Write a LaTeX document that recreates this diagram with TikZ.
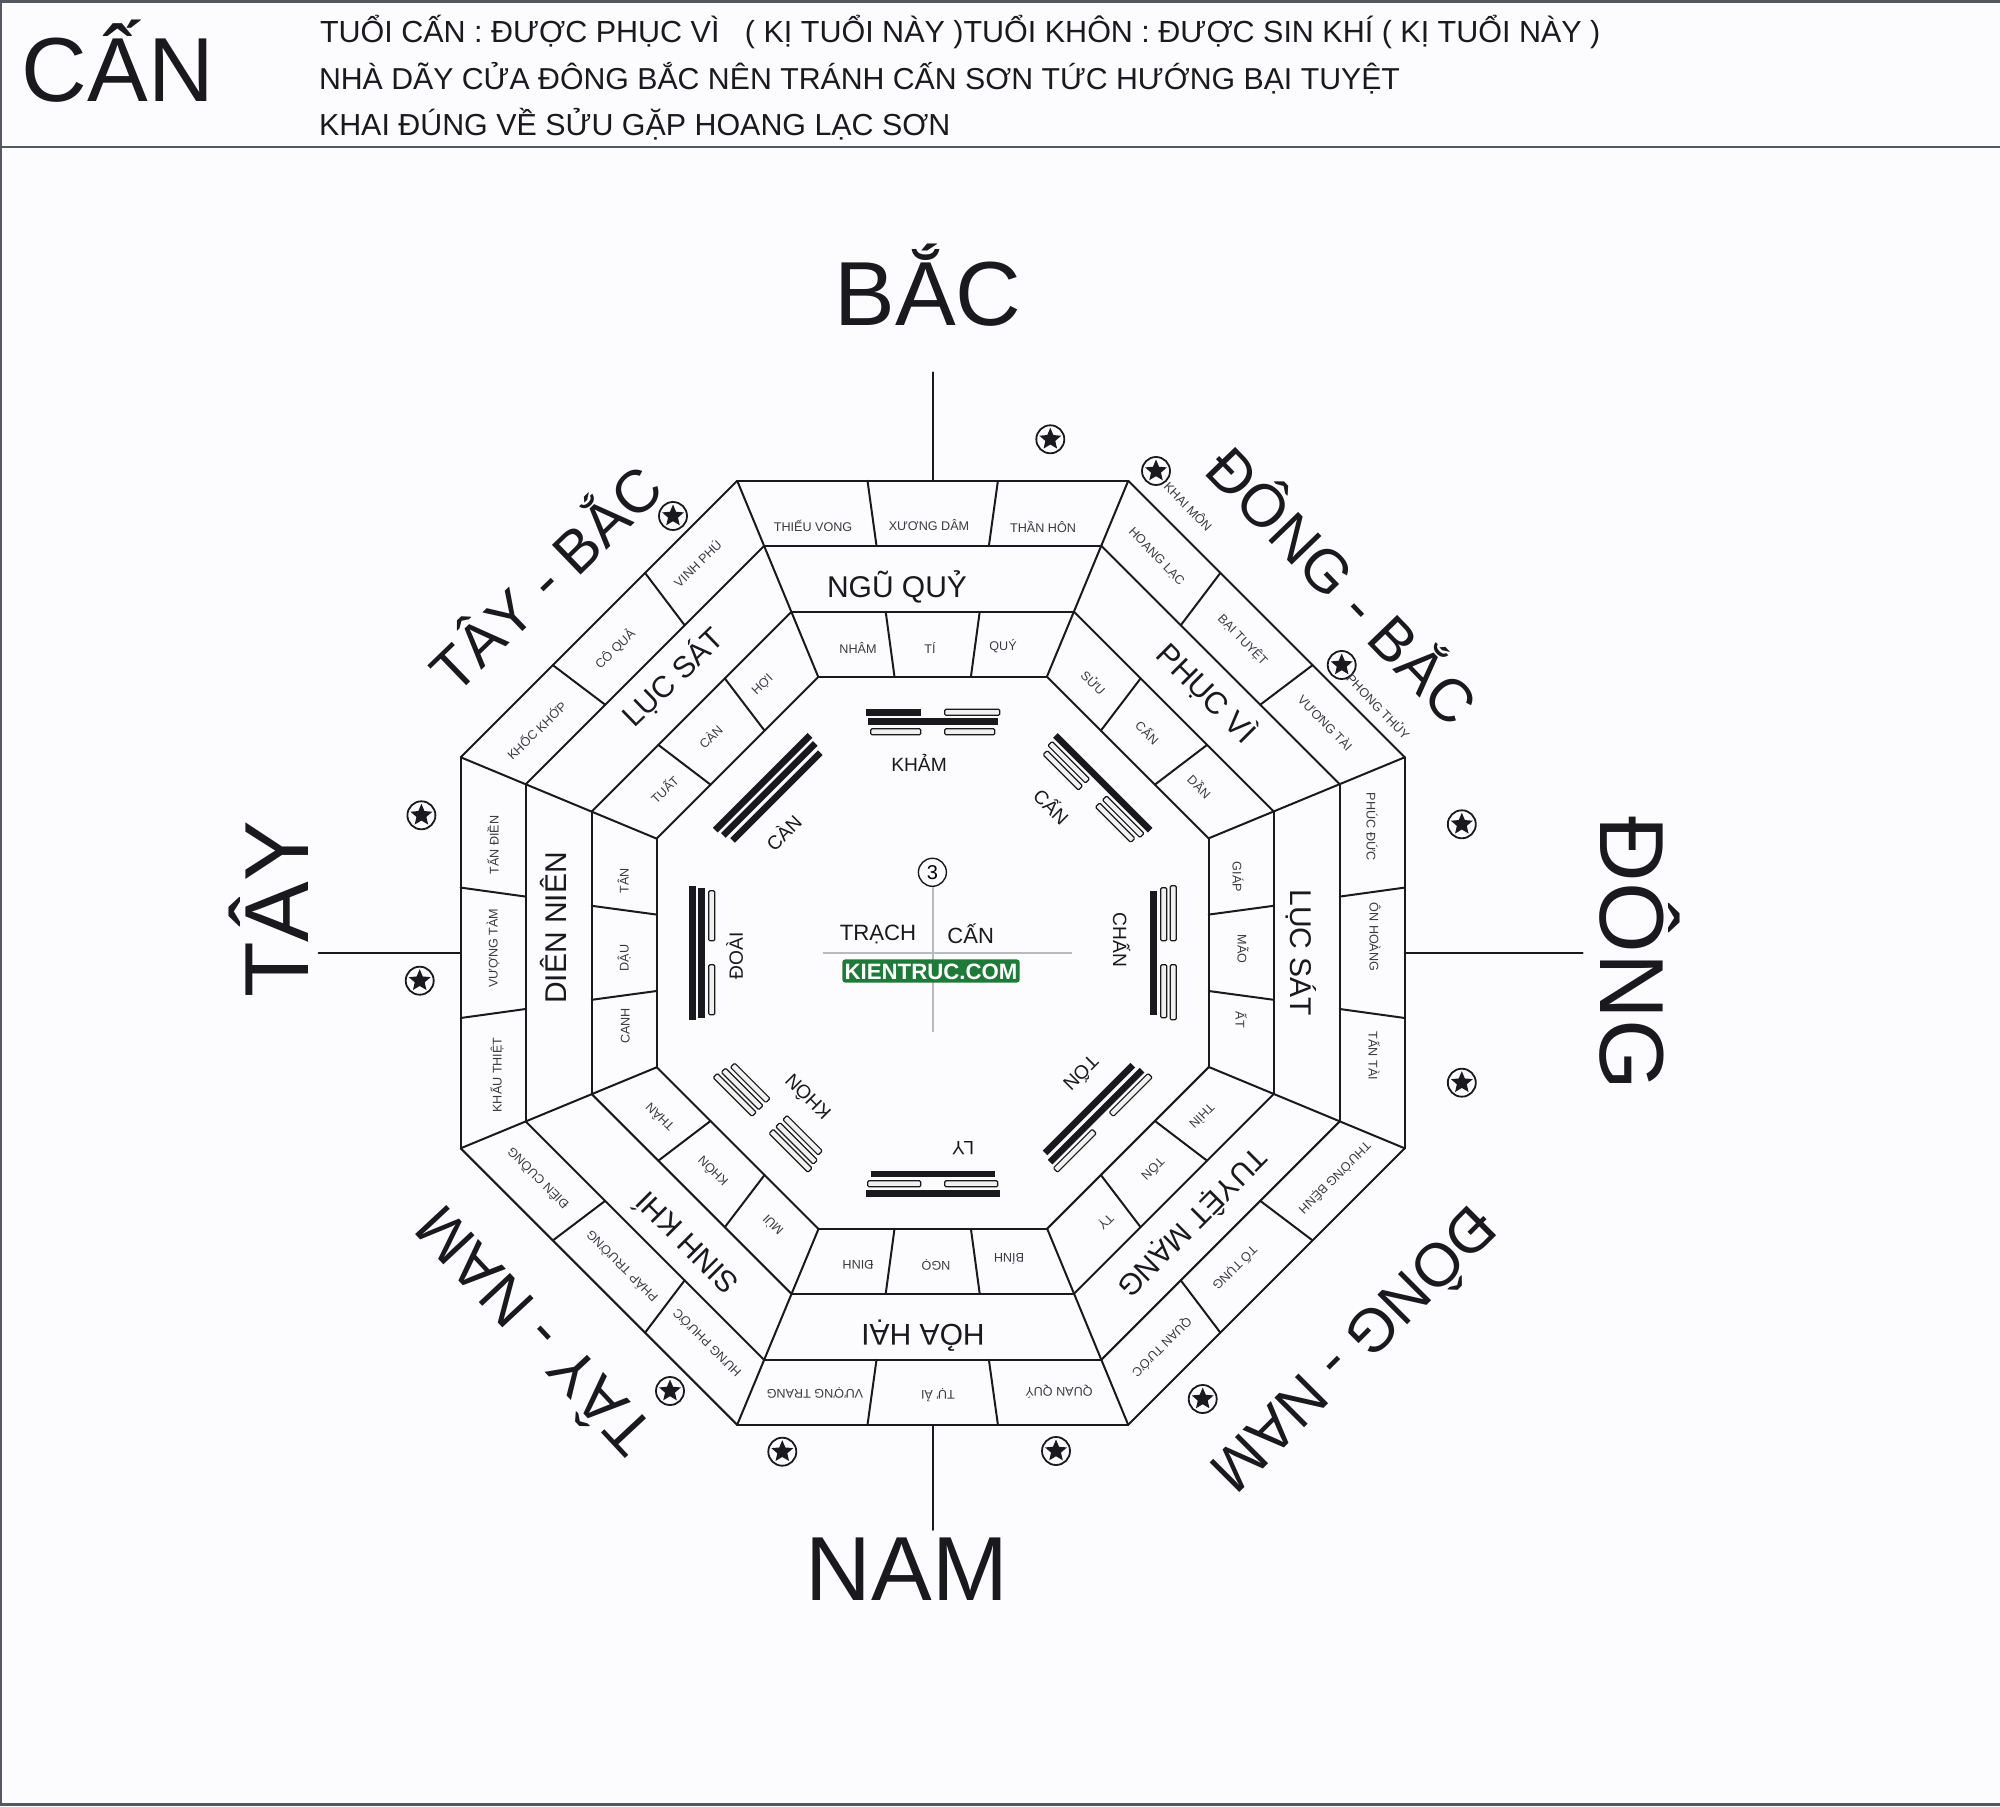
\documentclass[tikz,border=0pt]{standalone}
\usepackage{fontspec}
\setmainfont{Liberation Sans}
\usetikzlibrary{shapes.geometric}
\definecolor{pagebg}{HTML}{FCFCFE}
\definecolor{ink}{HTML}{1A1A1E}
\definecolor{smallink}{HTML}{3A3A40}
\definecolor{frameline}{HTML}{55585E}
\definecolor{crossline}{HTML}{B8BABE}
\definecolor{brandgreen}{HTML}{1F7A3A}
\definecolor{hollow}{HTML}{F0F0EE}
\tikzset{
  wire/.style={draw=ink,line width=1pt,line join=round,line cap=round},
  lbl/.style={inner sep=0pt,outer sep=0pt,anchor=center,text depth=0pt,text=ink},
  starring/.style={circle,draw=ink,line width=0.9pt,fill=pagebg,minimum size=14pt,inner sep=0pt},
  starcore/.style={star,star points=5,star point ratio=2.2,fill=ink,minimum size=11.5pt,inner sep=0pt},
  hollowbar/.style={draw=ink,line width=0.6pt,fill=hollow,rounded corners=0.6pt},
}
\newcommand{\lab}[6]{\node[lbl,rotate=#4,font=\fontsize{#5pt}{#5pt}\selectfont,text height={0.716*#5pt}] (#1) at (#2,{1806-#3}) {#6};}
\newcommand{\sml}[5]{\node[lbl,text=smallink,rotate=#4,font=\fontsize{6.3pt}{6.3pt}\selectfont,text height=4.5pt] (#1) at (#2,{1806-#3}) {#5};}
\newcommand{\starmark}[3]{\node[starring] (#1) at (#2,{1806-#3}) {}; \node[starcore] at (#1) {};}
% one bar of a trigram: radius, half length
\newcommand{\barS}[2]{\fill[ink] (-#2,#1-3.3) rectangle (#2,#1+3.3);}
\newcommand{\barH}[2]{\path[hollowbar] (-#2,#1-3) rectangle (-12,#1+3); \path[hollowbar] (12,#1-3) rectangle (#2,#1+3);}
\newcommand{\barX}[2]{\fill[ink] (-#2,#1-3.3) rectangle (-12,#1+3.3); \path[hollowbar] (12,#1-3) rectangle (#2,#1+3);}
% angle, outer, middle, inner
\newcommand{\trig}[4]{\begin{scope}[rotate=#1] #2{240.5}{67} #3{231}{65} #4{221}{62} \end{scope}}
\begin{document}
\begin{tikzpicture}[x=0.5pt,y=0.5pt]
\useasboundingbox (0,0) rectangle (2000,1806);
\fill[pagebg] (0,0) rectangle (2000,1806);
% page frame and header rule
\draw[frameline,line width=1.3pt] (2000,1804.5) -- (1,1804.5) -- (1,1.5) -- (2000,1.5);
\draw[frameline,line width=1.4pt] (0,1659) -- (2000,1659);
% octagon
\begin{scope}[shift={(932.7,853.2)}]
\foreach \ang in {0,45,...,315}{
  \begin{scope}[rotate=\ang]
    \draw[wire] (-195.5,472) -- (195.5,472);
    \draw[wire] (-168.5,407) -- (168.5,407);
    \draw[wire] (-141.2,341) -- (141.2,341);
    \draw[wire] (-114.5,276) -- (114.5,276);
    \draw[wire] (-195.5,472) -- (-114.5,276);
    \draw[wire] (-65.2,472) -- (-56.2,407);
    \draw[wire] (65.2,472) -- (56.2,407);
    \draw[wire] (-47,341) -- (-38.2,276);
    \draw[wire] (47,341) -- (38.2,276);
  \end{scope}
}
% axes to the compass labels
\coordinate (nIn) at (0,472); \coordinate (nOut) at (0,580.5);
\coordinate (sIn) at (0,-472); \coordinate (sOut) at (0,-577);
\coordinate (eIn) at (472,0); \coordinate (eOut) at (650,0);
\coordinate (wIn) at (-472,0); \coordinate (wOut) at (-614,0);
\draw[wire] (nIn) -- (nOut);
\draw[wire] (sIn) -- (sOut);
\draw[wire] (eIn) -- (eOut);
\draw[wire] (wIn) -- (wOut);
% inner cross
\draw[crossline,line width=0.8pt] (0,-79) -- (0,66);
\draw[crossline,line width=0.8pt] (-110,0) -- (139,0);
% trigrams
\trig{0}{\barX}{\barS}{\barH}
\trig{-45}{\barS}{\barH}{\barH}
\trig{-90}{\barH}{\barH}{\barS}
\trig{-135}{\barH}{\barS}{\barS}
\trig{180}{\barS}{\barH}{\barS}
\trig{135}{\barH}{\barH}{\barH}
\trig{90}{\barS}{\barS}{\barH}
\trig{45}{\barS}{\barS}{\barS}
\end{scope}
% header
\lab{hTitle}{118}{69}{0}{45.5}{CẤN}
\node[lbl,anchor=west,font=\fontsize{15.25pt}{15.25pt}\selectfont,text height=10.9pt] (hOne) at (320,{1806-31.5}) {TUỔI CẤN : ĐƯỢC PHỤC VÌ\ \ \ ( KỊ TUỔI NÀY )TUỔI KHÔN : ĐƯỢC SIN KHÍ ( KỊ TUỔI NÀY )};
\node[lbl,anchor=west,font=\fontsize{15.13pt}{15.13pt}\selectfont,text height=10.9pt] (hTwo) at (319,{1806-79}) {NHÀ DÃY CỬA ĐÔNG BẮC NÊN TRÁNH CẤN SƠN TỨC HƯỚNG BẠI TUYỆT};
\node[lbl,anchor=west,font=\fontsize{15.2pt}{15.2pt}\selectfont,text height=10.9pt] (hThree) at (319,{1806-125}) {KHAI ĐÚNG VỀ SỬU GẶP HOANG LẠC SƠN};
% compass labels
\lab{cN}{928}{293}{0}{45.5}{BẮC}
\lab{cS}{907}{1568}{0}{45.5}{NAM}
\lab{cE}{1632.6}{953.4}{-90}{45.5}{ĐÔNG}
\lab{cW}{276}{909.5}{90}{45.5}{TÂY}
\lab{cNE}{1342}{586}{-46}{30}{ĐÔNG - BẮC}
\lab{cNW}{546}{579}{44}{30}{TÂY - BẮC}
\lab{cSE}{1354}{1350}{-135}{30.5}{ĐÔNG - NAM}
\lab{cSW}{534}{1331}{133}{31}{TÂY - NAM}
% stars
\starmark{s1}{1050.3}{439.3}
\starmark{s2}{1156}{471}
\starmark{s3}{1341.7}{665}
\starmark{s4}{1461.8}{824.3}
\starmark{s5}{1461.8}{1082.7}
\starmark{s6}{1202.7}{1399}
\starmark{s7}{1056}{1451}
\starmark{s8}{782.3}{1451.7}
\starmark{s9}{670}{1391}
\starmark{s10}{419.7}{980.7}
\starmark{s11}{421.4}{815.3}
\starmark{s12}{673}{516}
% north
\sml{n1}{813}{526.7}{0}{THIẾU VONG}
\sml{n2}{929}{526}{0}{XƯƠNG DÂM}
\sml{n3}{1043}{528}{0}{THẦN HÔN}
\lab{nm}{897}{586.7}{0}{15}{NGŨ QUỶ}
\sml{n4}{858}{649}{0}{NHÂM}
\sml{n5}{930}{649}{0}{TÍ}
\sml{n6}{1003}{646}{0}{QUÝ}
% north-east
\sml{ne0}{1188}{507}{-46}{KHAI MÔN}
\sml{ne1}{1157}{556}{-46}{HOANG LẠC}
\sml{ne2}{1243}{640}{-46}{BẠI TUYỆT}
\sml{ne3}{1325}{723}{-46}{VƯƠNG TÀI}
\sml{ne9}{1378}{707}{-46}{PHONG THỦY}
\lab{nem}{1207}{693}{-45}{15.5}{PHỤC VÌ}
\sml{ne4}{1093}{683}{-45}{SỬU}
\sml{ne5}{1147}{733}{-45}{CẤN}
\sml{ne6}{1199}{787}{-45}{DẦN}
% east
\sml{e1}{1371}{827}{-90}{PHÚC ĐỨC}
\sml{e2}{1374}{937}{-90}{ÔN HOÀNG}
\sml{e3}{1373}{1056}{-90}{TẤN TÀI}
\lab{em}{1301}{953}{-90}{15}{LỤC SÁT}
\sml{e4}{1237}{877}{-90}{GIÁP}
\sml{e5}{1242}{949}{-90}{MÃO}
\sml{e6}{1240}{1020}{-90}{ẤT}
% south-east
\sml{se1}{1335}{1178}{-135}{THƯỜNG BỆNH}
\sml{se2}{1235}{1268}{-135}{TỐ TỤNG}
\sml{se3}{1162}{1347}{-135}{QUAN TƯỚC}
\lab{sem}{1193}{1223}{-135}{15}{TUYỆT MẠNG}
\sml{se4}{1202}{1116}{-135}{THÌN}
\sml{se5}{1153}{1169}{-135}{TỐN}
\sml{se6}{1106}{1222}{-135}{TỴ}
% south
\sml{s1t}{1059}{1392}{180}{QUAN QUÝ}
\sml{s2t}{938}{1395}{180}{TỰ ẢI}
\sml{s3t}{815}{1394}{180}{VƯỢNG TRANG}
\lab{sm}{923}{1335}{180}{15}{HỎA HẠI}
\sml{s4t}{1009}{1258}{180}{BÍNH}
\sml{s5t}{936}{1266}{180}{NGỌ}
\sml{s6t}{858}{1265}{180}{ĐINH}
% south-west
\sml{sw1}{707}{1343}{135}{HƯNG PHƯỚC}
\sml{sw2}{622}{1266}{135}{PHÁP TRƯỜNG}
\sml{sw3}{538}{1178}{135}{ĐIÊN CUỒNG}
\lab{swm}{687}{1243}{135}{15}{SINH KHÍ}
\sml{sw4}{773}{1225}{135}{MÙI}
\sml{sw5}{713}{1171}{135}{KHÔN}
\sml{sw6}{660}{1117}{135}{THÂN}
% west
\sml{w1}{497}{1075}{90}{KHẨU THIỆT}
\sml{w2}{493}{948}{90}{VƯỢNG TÀM}
\sml{w3}{494}{845}{90}{TẤN ĐIỀN}
\lab{wm}{556}{928}{90}{15}{DIÊN NIÊN}
\sml{w4}{625}{1026}{90}{CANH}
\sml{w5}{624}{958}{90}{DẬU}
\sml{w6}{624}{881}{90}{TÂN}
% north-west
\sml{nw1}{537}{731}{44}{KHỐC KHỚP}
\sml{nw2}{615}{649}{44}{CÔ QUẢ}
\sml{nw3}{698}{564}{44}{VINH PHÚ}
\lab{nwm}{673}{677}{44}{15}{LỤC SÁT}
\sml{nw4}{665}{790}{44}{TUẤT}
\sml{nw5}{711}{737}{44}{CÀN}
\sml{nw6}{762}{684}{44}{HỢI}
% trigram names
\lab{t1}{919}{765}{0}{9.6}{KHẢM}
\lab{t2}{1051}{807}{-45}{9.6}{CẤN}
\lab{t3}{1120}{940}{-90}{9.6}{CHẤN}
\lab{t4}{1081}{1073}{-135}{9.6}{TỐN}
\lab{t5}{963}{1148}{180}{9.6}{LY}
\lab{t6}{808}{1097}{135}{9.6}{KHÔN}
\lab{t7}{736}{956}{90}{9.6}{ĐOÀI}
\lab{t8}{784}{833}{45}{9.6}{CÀN}
% centre
\node[circle,draw=ink,line width=0.7pt,minimum size=14pt,inner sep=0pt,font=\fontsize{10pt}{10pt}\selectfont,fill=pagebg] (num) at (932.4,{1806-872.3}) {3};
\lab{cA}{878}{932.7}{0}{11.1}{TRẠCH}
\lab{cB}{970.7}{936}{0}{11}{CẤN}
\node[fill=brandgreen,rounded corners=1.5pt,text=white,inner xsep=1.2pt,inner ysep=1.8pt,font=\fontsize{11.1pt}{11.1pt}\selectfont\bfseries,text height=8pt,text depth=0pt] (brand) at (931,{1806-971}) {KIENTRUC.COM};
\end{tikzpicture}
\end{document}
